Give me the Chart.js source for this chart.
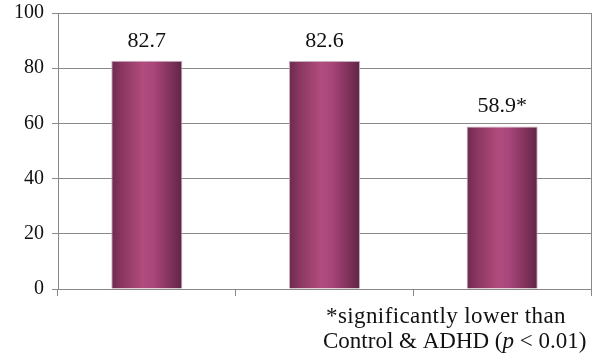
<!DOCTYPE html>
<html>
<head>
<meta charset="utf-8">
<script src="https://cdn.jsdelivr.net/npm/chart.js@4"></script>
<style>
  html, body { margin: 0; padding: 0; background: #fff; }
  #wrap { width: 603px; height: 362px; }
</style>
</head>
<body>
<div id="wrap"><canvas id="grafico" width="603" height="362"></canvas></div>
<script>
const categorias = ['Control', 'ADHD', 'Grupo 3'];
const valores = [82.7, 82.6, 58.9];
const rotulos = ['82.7', '82.6', '58.9*'];
const ticksY = [0, 20, 40, 60, 80, 100];

const fonteSerif = '"Liberation Serif", "DejaVu Serif", serif';

// gradiente horizontal tipo cilindro, calculado por barra
function corBarra(context) {
    const chart = context.chart;
    const escalaX = chart.scales.x;
    if (!chart.chartArea || !escalaX || context.dataIndex === undefined) return '#9a3d6e';
    const centro = escalaX.getPixelForValue(context.dataIndex);
    const largura = (escalaX.width / categorias.length) * 0.4;
    const g = chart.ctx.createLinearGradient(centro - largura / 2, 0, centro + largura / 2, 0);
    g.addColorStop(0, '#6c2a4f');
    g.addColorStop(0.15, '#8a3761');
    g.addColorStop(0.45, '#b24c7e');
    g.addColorStop(0.6, '#a8467a');
    g.addColorStop(0.85, '#7d3058');
    g.addColorStop(1, '#5e2545');
    return g;
}

// rotulos acima das barras e nota de rodape
const pluginTextos = {
    id: 'textos',
    afterDatasetsDraw(chart) {
        const ctx = chart.ctx;
        ctx.save();
        ctx.fillStyle = '#111';
        ctx.font = '22px ' + fonteSerif;
        ctx.textAlign = 'center';
        ctx.textBaseline = 'middle';
        chart.getDatasetMeta(0).data.forEach((bar, i) => {
            ctx.fillText(rotulos[i], bar.x, bar.y - 20);
        });

        ctx.textAlign = 'left';
        ctx.textBaseline = 'alphabetic';
        ctx.font = '23px ' + fonteSerif;
        ctx.letterSpacing = '0.4px';
        ctx.fillText('*significantly lower than', 326, 323);
        ctx.letterSpacing = '0px';
        let x = 323;
        const partes = [
            ['Control & ADHD (', false],
            ['p', true],
            [' < 0.01)', false]
        ];
        partes.forEach(([t, it]) => {
            ctx.font = (it ? 'italic ' : '') + '23px ' + fonteSerif;
            ctx.fillText(t, x, 348);
            x += ctx.measureText(t).width;
        });
        ctx.restore();
    }
};

new Chart(document.getElementById('grafico'), {
    type: 'bar',
    data: {
        labels: categorias,
        datasets: [{
            data: valores,
            backgroundColor: corBarra,
            borderColor: '#c8adbb',
            borderWidth: 1,
            borderSkipped: 'bottom',
            barPercentage: 0.4,
            categoryPercentage: 1
        }]
    },
    options: {
        responsive: false,
        animation: false,
        layout: { padding: { top: 13, left: 0, right: 12, bottom: 0 } },
        plugins: { legend: { display: false }, tooltip: { enabled: false } },
        scales: {
            x: {
                offset: true,
                grid: {
                    offset: true,
                    drawOnChartArea: false,
                    drawTicks: true,
                    tickLength: 7,
                    color: '#888'
                },
                border: { color: '#888', width: 1 },
                ticks: { display: false },
                afterFit(scale) { scale.height = 73; }
            },
            y: {
                min: 0,
                max: 100,
                afterBuildTicks(scale) { scale.ticks = ticksY.map(v => ({ value: v })); },
                ticks: {
                    color: '#111',
                    font: { family: fonteSerif, size: 20 },
                    padding: 8
                },
                grid: { color: '#8a8a8a', tickLength: 6 },
                border: { color: '#888', width: 1 },
                afterFit(scale) {
                    scale.width = 58;
                    scale.paddingTop = 0;
                    scale.paddingBottom = 0;
                }
            },
            y2: {
                position: 'right',
                min: 0,
                max: 100,
                ticks: { display: false },
                grid: { drawOnChartArea: false, drawTicks: false },
                border: { color: '#888', width: 1 },
                afterFit(scale) { scale.width = 0; }
            }
        }
    },
    plugins: [pluginTextos]
});
</script>
</body>
</html>
